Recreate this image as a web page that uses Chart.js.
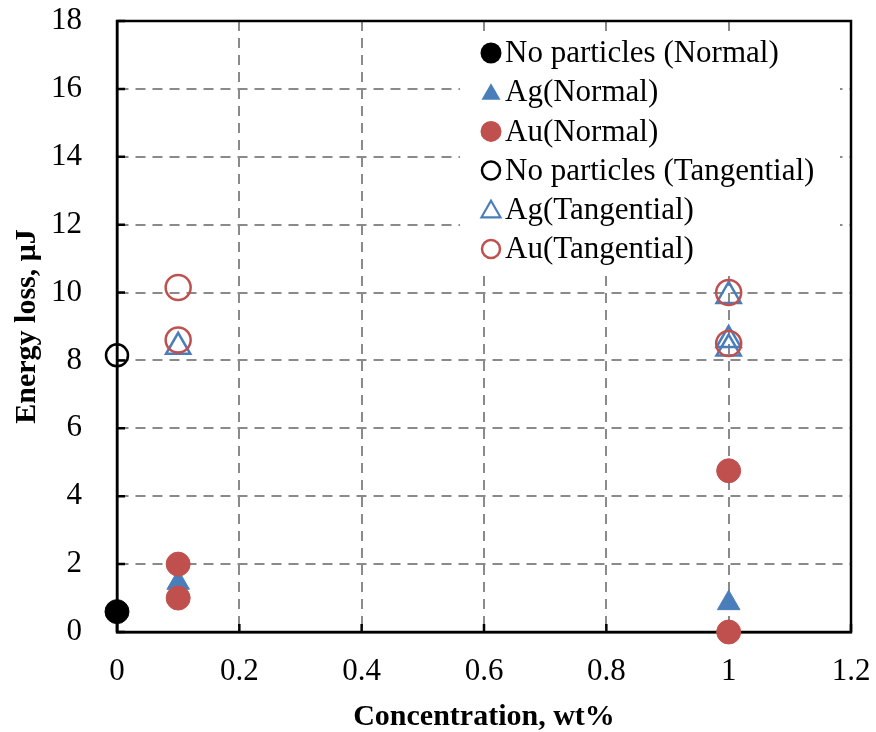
<!DOCTYPE html>
<html>
<head>
<meta charset="utf-8">
<script src="https://cdn.jsdelivr.net/npm/chart.js@4/dist/chart.umd.min.js"></script>
<style>
  html, body { margin: 0; padding: 0; background: #fff; }
  canvas { display: block; }
</style>
</head>
<body>
<canvas id="chart" width="876" height="732"></canvas>
<script>
// Energy loss vs. nanoparticle concentration, normal and tangential loading
const seriesLabels = [
  'No particles (Normal)',
  'Ag(Normal)',
  'Au(Normal)',
  'No particles (Tangential)',
  'Ag(Tangential)',
  'Au(Tangential)'
];

const noParticlesNormalX = [0];
const noParticlesNormalY = [0.6];

const agNormalX = [0.1, 1];
const agNormalY = [1.45, 0.85];

const auNormalX = [0.1, 0.1, 1, 1];
const auNormalY = [2.0, 1.0, 4.75, 0.0];

const noParticlesTangentialX = [0];
const noParticlesTangentialY = [8.15];

const agTangentialX = [0.1, 1, 1, 1];
const agTangentialY = [8.4, 9.9, 8.35, 8.6];

const auTangentialX = [0.1, 0.1, 1, 1];
const auTangentialY = [10.15, 8.6, 10.0, 8.5];

const xTickValues = [0, 0.2, 0.4, 0.6, 0.8, 1, 1.2];
const yTickValues = [0, 2, 4, 6, 8, 10, 12, 14, 16, 18];

const BLUE = '#4a7ebb';
const RED = '#c0504d';
const BLACK = '#000000';
const FONT = "'Liberation Serif', 'Times New Roman', serif";

function toPoints(xs, ys) {
  return xs.map((x, i) => ({ x: x, y: ys[i] }));
}

// marker appearance per series: [pointStyle, filled, colour, radius, line width]
const markerStyles = [
  ['circle', true, BLACK, 12, 1],
  ['triangle', true, BLUE, 13, 1],
  ['circle', true, RED, 12, 1],
  ['circle', false, BLACK, 11, 2.5],
  ['triangle', false, BLUE, 14, 2.5],
  ['circle', false, RED, 12.5, 2.5]
];

const seriesPoints = [
  toPoints(noParticlesNormalX, noParticlesNormalY),
  toPoints(agNormalX, agNormalY),
  toPoints(auNormalX, auNormalY),
  toPoints(noParticlesTangentialX, noParticlesTangentialY),
  toPoints(agTangentialX, agTangentialY),
  toPoints(auTangentialX, auTangentialY)
];

const datasets = seriesLabels.map((label, i) => {
  const [style, filled, color, radius, lw] = markerStyles[i];
  return {
    label: label,
    data: seriesPoints[i],
    pointStyle: style,
    pointRadius: radius,
    pointHoverRadius: radius,
    pointBorderWidth: lw,
    pointBorderColor: color,
    pointBackgroundColor: filled ? color : 'rgba(0,0,0,0)',
    showLine: false,
    clip: false,
    // later series are painted on top
    order: seriesLabels.length - i
  };
});

// plot frame with short inward tick marks
const framePlugin = {
  id: 'frame',
  beforeDatasetsDraw(chart) {
    const { ctx, chartArea: a, scales } = chart;
    ctx.save();
    ctx.strokeStyle = BLACK;
    ctx.lineWidth = 2.5;
    ctx.beginPath();
    yTickValues.forEach(v => {
      const y = scales.y.getPixelForValue(v);
      ctx.moveTo(a.left, y);
      ctx.lineTo(a.left + 8, y);
    });
    xTickValues.forEach(v => {
      const x = scales.x.getPixelForValue(v);
      ctx.moveTo(x, a.bottom);
      ctx.lineTo(x, a.bottom - 8);
    });
    ctx.stroke();
    ctx.strokeRect(a.left, a.top, a.right - a.left, a.bottom - a.top);
    ctx.restore();
  }
};

function drawMarker(ctx, style, filled, color, r, lw, x, y) {
  ctx.save();
  ctx.beginPath();
  if (style === 'triangle') {
    let rad = 0;
    for (let k = 0; k < 3; k++) {
      const px = x + Math.sin(rad) * r;
      const py = y - Math.cos(rad) * r;
      if (k === 0) ctx.moveTo(px, py); else ctx.lineTo(px, py);
      rad += 2 * Math.PI / 3;
    }
    ctx.closePath();
  } else {
    ctx.arc(x, y, r, 0, Math.PI * 2);
  }
  if (filled) {
    ctx.fillStyle = color;
    ctx.fill();
  } else {
    ctx.strokeStyle = color;
    ctx.lineWidth = lw;
    ctx.stroke();
  }
  ctx.restore();
}

// legend box inside the plot, upper right
const legendMarkers = [
  ['circle', true, BLACK, 10.5, 0],
  ['triangle', true, BLUE, 11, 0],
  ['circle', true, RED, 10.5, 0],
  ['circle', false, BLACK, 9, 2.5],
  ['triangle', false, BLUE, 11, 2.2],
  ['circle', false, RED, 9, 2.5]
];

const insideLegend = {
  id: 'insideLegend',
  afterDatasetsDraw(chart) {
    const { ctx } = chart;
    const box = { left: 460, top: 32, right: 840, bottom: 270 };
    ctx.save();
    ctx.fillStyle = '#ffffff';
    ctx.fillRect(box.left, box.top, box.right - box.left, box.bottom - box.top);
    ctx.font = '31px ' + FONT;
    ctx.textAlign = 'left';
    ctx.textBaseline = 'middle';
    chart.data.datasets.forEach((ds, i) => {
      const y = 53 + i * 39.2;
      const [style, filled, color, r, lw] = legendMarkers[i];
      drawMarker(ctx, style, filled, color, r, lw, 491, style === 'triangle' ? y + 2 : y);
      ctx.fillStyle = BLACK;
      ctx.fillText(ds.label, 505, y + 1);
    });
    ctx.restore();
  }
};

const tickFont = { family: FONT, size: 31, lineHeight: 1 };
const titleFont = { family: FONT, size: 30, weight: 'bold', lineHeight: 1 };

new Chart(document.getElementById('chart'), {
  type: 'scatter',
  data: { datasets: datasets },
  options: {
    responsive: false,
    animation: false,
    events: [],
    layout: { padding: { top: 21, right: 25, left: 0, bottom: 0 } },
    plugins: {
      legend: { display: false },
      tooltip: { enabled: false }
    },
    scales: {
      x: {
        type: 'linear',
        min: 0,
        max: 1.2,
        afterFit(scale) {
          scale.height = 100;
          scale.paddingLeft = 0;
          scale.paddingRight = 0;
        },
        afterBuildTicks(scale) { scale.ticks = xTickValues.map(v => ({ value: v })); },
        ticks: {
          color: BLACK,
          font: tickFont,
          padding: 24,
          maxRotation: 0,
          callback: v => String(Number(v.toFixed(1)))
        },
        grid: { color: '#8a8a8a', lineWidth: 2, drawTicks: false },
        border: { display: true, color: BLACK, width: 2.5, dash: [10, 7] },
        title: {
          display: true,
          text: 'Concentration, wt%',
          color: BLACK,
          font: titleFont,
          padding: { top: 0, bottom: 0 }
        }
      },
      y: {
        type: 'linear',
        min: 0,
        max: 18,
        afterFit(scale) {
          scale.width = 117;
          scale.paddingTop = 0;
          scale.paddingBottom = 0;
        },
        afterBuildTicks(scale) { scale.ticks = yTickValues.map(v => ({ value: v })); },
        ticks: {
          color: BLACK,
          font: tickFont,
          padding: 35,
          callback: v => String(v)
        },
        grid: { color: '#8a8a8a', lineWidth: 2, drawTicks: false },
        border: { display: true, color: BLACK, width: 2.5, dash: [10, 7] },
        title: {
          display: true,
          text: 'Energy loss, μJ',
          color: BLACK,
          font: titleFont,
          padding: { top: 12, bottom: 0 }
        }
      }
    }
  },
  plugins: [framePlugin, insideLegend]
});
</script>
</body>
</html>
